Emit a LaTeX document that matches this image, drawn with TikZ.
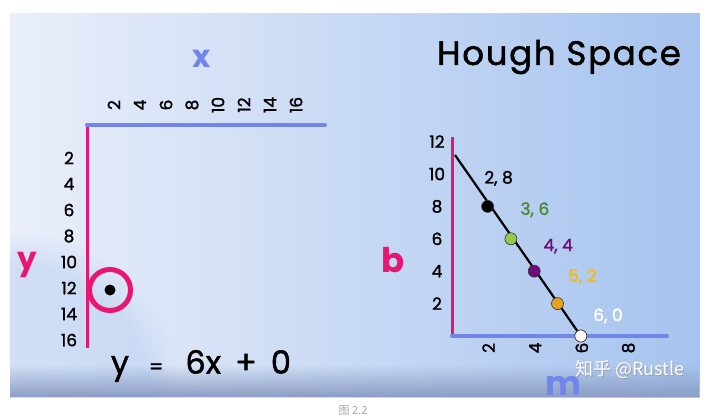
\documentclass[tikz,border=0pt]{standalone}
\usepackage{fontspec}
\setmainfont{Poppins}
\newfontfamily\medfont{Poppins}[FakeBold=1.4]
\newfontfamily\cjk{Noto Sans CJK SC}
\usepackage{xcolor}
\usetikzlibrary{fadings}

\definecolor{axpink}{RGB}{232,22,112}
\definecolor{axblue}{RGB}{112,134,232}
\definecolor{bgleft}{RGB}{234,239,250}
\definecolor{bgmid}{RGB}{228,235,249}
\definecolor{bgright}{RGB}{166,195,238}
\definecolor{bgdark}{RGB}{140,158,196}
\definecolor{ptgreen}{RGB}{150,200,80}
\definecolor{lbgreen}{RGB}{78,138,48}
\definecolor{ptpurple}{RGB}{112,12,122}
\definecolor{ptorange}{RGB}{232,162,30}
\definecolor{lborange}{RGB}{242,186,20}

\begin{document}
\begin{tikzpicture}[x=1pt, y=-1pt,
    tick/.style={font=\medfont\fontsize{17}{17}\selectfont},
    axlabel/.style={font=\fontsize{31}{31}\selectfont\bfseries},
    ptlabel/.style={font=\medfont\fontsize{17}{17}\selectfont},
    hpoint/.style={circle, draw=black!80, line width=0.6pt, minimum size=12pt, inner sep=0pt}]

    \useasboundingbox (0,0) rectangle (728,417);

    % Background
    \shade[left color=bgleft, middle color=bgmid, right color=bgright] (10,14) rectangle (700,397);
    \begin{scope}
        \clip (10,14) rectangle (700,397);
        \fill[bgright, opacity=0.35, path fading=circle with fuzzy edge 20 percent] (10,400) circle (170);
    \end{scope}
    \fill[bgdark, path fading=north] (10,365) rectangle (700,397);

    % Image space: axes
    \coordinate (O1) at (87,125);
    \coordinate (X1) at (325,125);
    \coordinate (Y1) at (87,348);
    \draw[axpink, line width=3pt] (O1) -- (Y1);
    \draw[axblue, line width=4pt, line cap=round] (O1) -- (X1);

    % Image space: ticks
    \foreach \v [count=\i] in {2,4,...,16}
        \node[tick, rotate=90] (xt\v) at (88+26*\i,105) {\v};
    \foreach \v [count=\i] in {2,4,...,16}
        \node[tick] (yt\v) at (69,132+26*\i) {\v};

    \node[axlabel, axblue] (xlab) at (202,59) {x};
    \node[axlabel, axpink] (ylab) at (27,265) {y};

    % The one point (x,y) = (2,12)
    \node[circle, draw=axpink, line width=5pt, minimum size=41pt, inner sep=0pt] (ring) at (110,290) {};
    \node[circle, fill=black, minimum size=11pt, inner sep=0pt] (pt) at (110,290) {};

    \node[font=\medfont\fontsize{32}{32}\selectfont] (eq) at (201,366) {y\hspace{20pt}{\fontsize{20}{20}\selectfont=}\hspace{22pt}6x\hspace{14pt}+\hspace{14pt}0};

    % Hough space: axes
    \node[font=\medfont\fontsize{34}{34}\selectfont\addfontfeatures{LetterSpace=5}] (title) at (559,57) {Hough Space};

    \def\mO{441}   % m = 0
    \def\bO{336}   % b = 0
    \def\mx{23.3}
    \def\by{16.2}

    \coordinate (O2) at (452,\bO);
    \coordinate (M2) at (667,\bO);
    \coordinate (B2) at (452,137);
    \draw[axpink, line width=3pt] (O2) -- (B2);
    \draw[axblue, line width=4pt, line cap=round] (O2) -- (M2);

    \foreach \v in {2,4,...,12}
        \node[tick] (bt\v) at (437,\bO-\by*\v) {\v};
    \foreach \v in {2,4,6,8}
        \node[tick, rotate=90] (mt\v) at (\mO+\mx*\v+1,348) {\v};

    \node[axlabel, axpink, font=\fontsize{34}{34}\selectfont\bfseries] (blab) at (393,260) {b};
    \node[axlabel, axblue, font=\fontsize{34}{34}\selectfont\bfseries] (mlab) at (563,386) {m};

    % Line b = -2m + 12
    \coordinate (ltop) at (455,155);
    \node[hpoint, fill=white!92!pink] (p60) at (\mO+\mx*6,\bO) {};
    \draw[line width=2.2pt] (ltop) -- (p60);

    % Points (m,b)
    \foreach \m/\b/\c/\lc/\dx/\dy in {2/8/black/black/11/-28, 3/6/ptgreen/lbgreen/24/-29,
                                   4/4/ptpurple/ptpurple/24/-25, 5/2/ptorange/lborange/25/-27}
    {
        \node[hpoint, fill=\c] (p\m\b) at (\mO+\mx*\m,\bO-\by*\b) {};
        \node[ptlabel, text=\lc] (l\m\b) at (\mO+\mx*\m+\dx,\bO-\by*\b+\dy) {\m, \b};
    }
    \node[hpoint, fill=white!92!pink] at (p60) {};
    \node[ptlabel, text=white] (l60) at (608,316) {6, 0};

    % Watermark and caption
    \node[font=\cjk\fontsize{18}{18}\selectfont, text=black!45, opacity=0.6] at (631,370) {知乎 @Rustle};
    \node[font=\cjk\fontsize{18}{18}\selectfont, text=white] (wm) at (630,369) {知乎 @Rustle};
    \node[font=\cjk\fontsize{11}{11}\selectfont, text=black!35, anchor=north] (cap) at (353,402) {图 2.2};

\end{tikzpicture}
\end{document}
